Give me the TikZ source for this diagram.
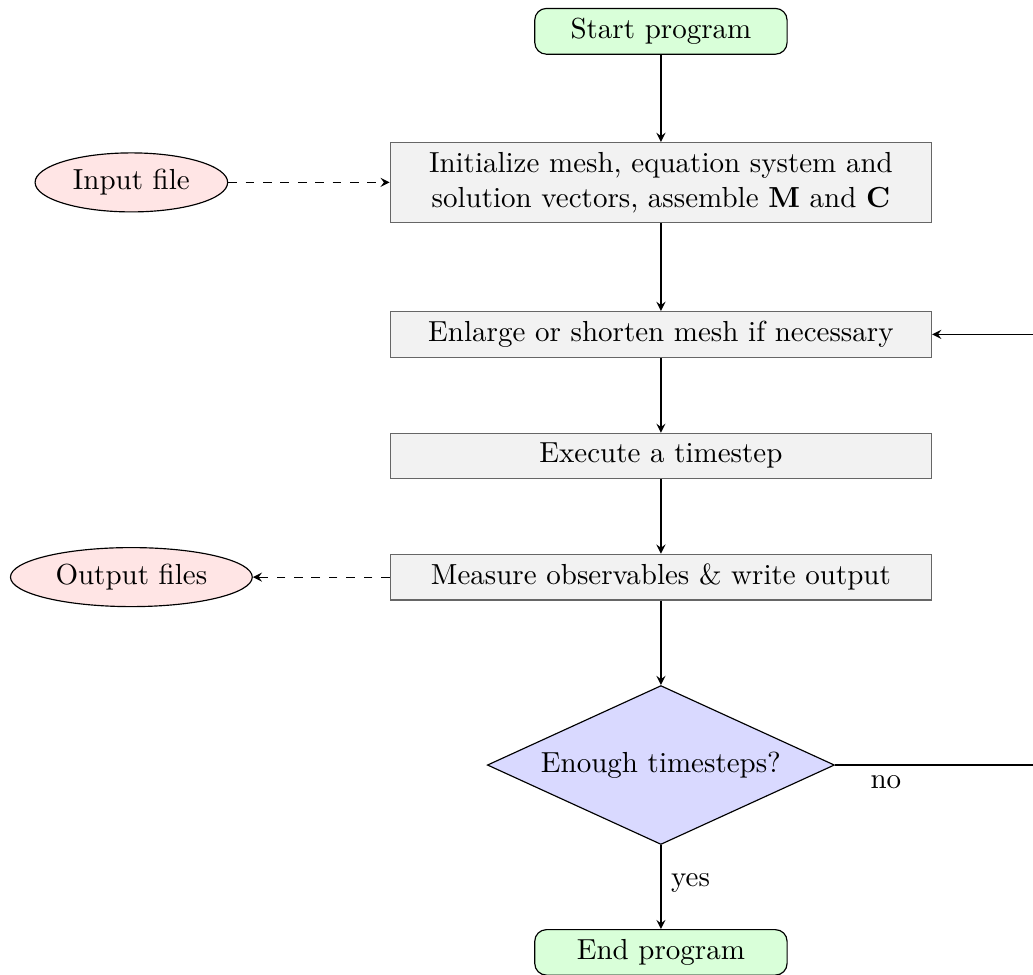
\documentclass[tikz,border=0pt]{standalone}
\usepackage{tikz}
\usetikzlibrary{shapes.geometric}

\tikzset{
	startstop/.style={draw, rounded corners=4pt, fill=green!15, minimum width=87pt, minimum height=15.5pt},
	process/.style={draw=black!60, fill=gray!10, text width=180pt, align=center, minimum height=15.5pt},
	datafile/.style={draw, ellipse, fill=red!10, inner ysep=2.7pt},
	decision/.style={draw, diamond, aspect=2.2, fill=blue!15, minimum width=119.7pt, minimum height=54.8pt, inner sep=1pt},
}

\begin{document}
\begin{tikzpicture}[x=1pt, y=1pt, >=stealth]
	\useasboundingbox (0,0) rectangle (356.2,-336.2);
	% main chain
	\node[startstop] (start) at (227.9,-10.8) {Start program};
	\node[process] (init) at (227.9,-62.9) {Initialize mesh, equation system and solution vectors, assemble $\mathbf{M}$ and $\mathbf{C}$};
	\node[process] (mesh) at (227.9,-115.3) {Enlarge or shorten mesh if necessary};
	\node[process] (step) at (227.9,-157.2) {Execute a timestep};
	\node[process] (measure) at (227.9,-199) {Measure observables \& write output};
	\node[decision] (enough) at (227.9,-263.8) {Enough timesteps?};
	\node[startstop] (stop) at (227.9,-328.4) {End program};
	% files
	\node[datafile] (input) at (45.3,-62.9) {Input file};
	\node[datafile] (output) at (45.3,-199) {Output files};
	\coordinate (loop) at (358,-263.8);

	\draw[->] (start) -- (init);
	\draw[->] (init) -- (mesh);
	\draw[->] (mesh) -- (step);
	\draw[->] (step) -- (measure);
	\draw[->] (measure) -- (enough);
	\draw[->] (enough) -- node[right, pos=0.45] {yes} (stop);
	\draw[->] (enough) -- node[below, pos=0.25] {no} (loop) |- (mesh);
	\draw[->, dashed] (input) -- (init);
	\draw[->, dashed] (measure) -- (output);
\end{tikzpicture}
\end{document}
